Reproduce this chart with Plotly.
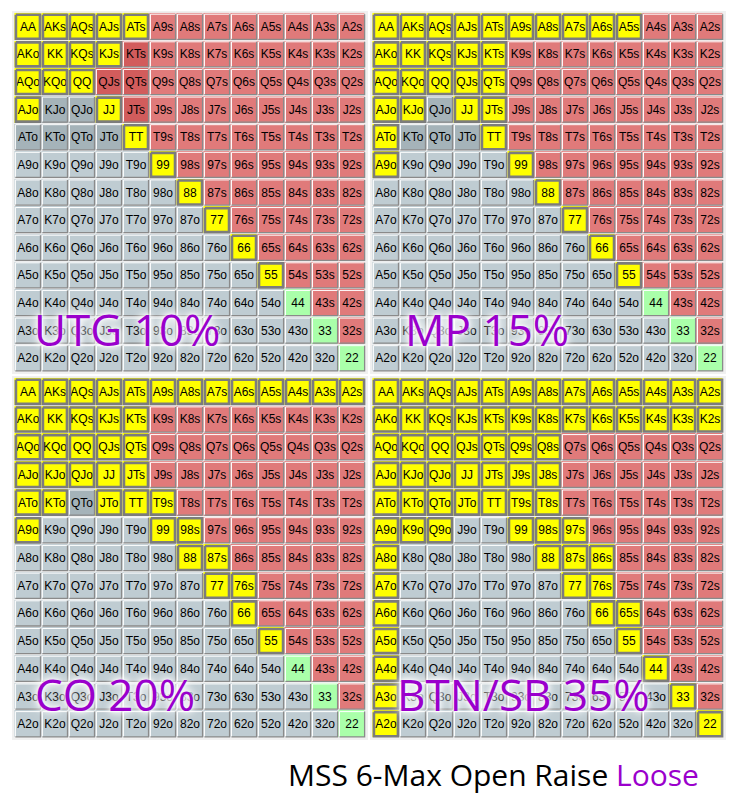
import plotly.graph_objects as go

# ---------------- data ----------------
ranks = ["A", "K", "Q", "J", "T", "9", "8", "7", "6", "5", "4", "3", "2"]

positions = ["UTG 10%", "MP 15%", "CO 20%", "BTN/SB 35%"]

utg_open = ["AA", "AKs", "AQs", "AJs", "ATs", "AKo", "KK", "KQs", "KJs", "AQo", "KQo", "QQ",
            "AJo", "JJ", "TT", "99", "88", "77", "66", "55"]
utg_shade = ["KTs", "QJs", "QTs", "JTs", "KJo", "QJo", "ATo", "KTo", "QTo", "JTo"]

mp_open = ["AA", "AKs", "AQs", "AJs", "ATs", "A9s", "A8s", "A7s", "A6s", "A5s",
           "AKo", "KK", "KQs", "KJs", "KTs", "AQo", "KQo", "QQ", "QJs", "QTs",
           "AJo", "KJo", "JJ", "JTs", "ATo", "TT", "A9o", "99", "88", "77", "66", "55"]
mp_shade = ["QJo", "KTo", "QTo", "JTo"]

co_open = ["AA", "AKs", "AQs", "AJs", "ATs", "A9s", "A8s", "A7s", "A6s", "A5s", "A4s", "A3s", "A2s",
           "AKo", "KK", "KQs", "KJs", "KTs", "AQo", "KQo", "QQ", "QJs", "QTs",
           "AJo", "KJo", "QJo", "JJ", "JTs", "ATo", "KTo", "JTo", "TT", "T9s",
           "A9o", "99", "98s", "88", "87s", "77", "76s", "66", "55"]
co_shade = ["QTo"]

btn_open = ["AA", "AKs", "AQs", "AJs", "ATs", "A9s", "A8s", "A7s", "A6s", "A5s", "A4s", "A3s", "A2s",
            "AKo", "KK", "KQs", "KJs", "KTs", "K9s", "K8s", "K7s", "K6s", "K5s", "K4s", "K3s", "K2s",
            "AQo", "KQo", "QQ", "QJs", "QTs", "Q9s", "Q8s",
            "AJo", "KJo", "QJo", "JJ", "JTs", "J9s", "J8s",
            "ATo", "KTo", "QTo", "JTo", "TT", "T9s", "T8s",
            "A9o", "K9o", "Q9o", "99", "98s", "97s",
            "A8o", "88", "87s", "86s", "A7o", "77", "76s", "A6o", "66", "65s",
            "A5o", "55", "A4o", "44", "A3o", "33", "A2o", "22"]
btn_shade = []

ranges_open = [utg_open, mp_open, co_open, btn_open]
ranges_shade = [utg_shade, mp_shade, co_shade, btn_shade]

title_main = "MSS 6-Max Open Raise "
title_tail = "Loose"

# ---------------- styling ----------------
COL_YELLOW = "#ffff00"
COL_RED = "#e07a7a"
COL_RED_D = "#d25c5c"
COL_GREY = "#bfccd2"
COL_GREY_D = "#a5b3b9"
COL_GREEN = "#aaffaa"
PURPLE = "#9a00cc"
palette = [COL_YELLOW, COL_RED, COL_RED_D, COL_GREY, COL_GREY_D, COL_GREEN]
n = len(palette)
cscale = []
for k, c in enumerate(palette):
    cscale.append([k / n, c])
    cscale.append([(k + 1) / n, c])

W, H = 735, 807
# panel boxes in pixels (left, right, top, bottom)
panels_px = [(12, 368, 11, 374), (370, 726, 11, 374), (12, 368, 376, 740), (370, 726, 376, 740)]
label_px = [(127, 329), (487, 329), (115, 694), (523, 694)]
GLOW = ("0px 0px 3px rgba(255,255,255,1), 0px 0px 6px rgba(255,255,255,1), "
        "0px 0px 10px rgba(255,255,255,0.95), 0px 0px 14px rgba(255,255,255,0.9)")


def hand(i, j):
    if i == j:
        return ranks[i] + ranks[j]
    if j > i:
        return ranks[i] + ranks[j] + "s"
    return ranks[j] + ranks[i] + "o"


fig = go.Figure()

for p in range(4):
    ax = "" if p == 0 else str(p + 1)
    xr, yr = "x" + ax, "y" + ax
    opened = set(ranges_open[p])
    shaded = set(ranges_shade[p])
    z, txt = [], []
    lx, ly, dx, dy, sx, sy = [], [], [], [], [], []
    hx, hy = 0.465, 0.455
    for i in range(13):
        zr, tr = [], []
        for j in range(13):
            h = hand(i, j)
            if h in opened:
                code = 0
            elif i == j:
                code = 5
            elif j > i:
                code = 2 if h in shaded else 1
            else:
                code = 4 if h in shaded else 3
            zr.append(code)
            tr.append(h)
            if code == 0:
                a, b = hx - 0.02, hy - 0.02
                sx += [j - a, j + a, j + a, j - a, j - a, None]
                sy += [i - b, i - b, i + b, i + b, i - b, None]
            else:
                lx += [j - hx, j - hx, j + hx, None]
                ly += [i + hy, i - hy, i - hy, None]
                dx += [j + hx, j + hx, j - hx, None]
                dy += [i - hy, i + hy, i + hy, None]
        z.append(zr)
        txt.append(tr)

    fig.add_trace(go.Heatmap(
        z=z, x=list(range(13)), y=list(range(13)), text=txt, texttemplate="%{text}",
        textfont=dict(family="Liberation Sans, Arial", size=12, color="#000000"),
        colorscale=cscale, zmin=-0.5, zmax=n - 0.5, showscale=False,
        xgap=1, ygap=1, hoverinfo="skip", xaxis=xr, yaxis=yr))
    fig.add_trace(go.Scatter(x=lx, y=ly, mode="lines", line=dict(color="#ffffff", width=1),
                             hoverinfo="skip", showlegend=False, xaxis=xr, yaxis=yr))
    fig.add_trace(go.Scatter(x=dx, y=dy, mode="lines", line=dict(color="#8a8a8a", width=1.3),
                             hoverinfo="skip", showlegend=False, xaxis=xr, yaxis=yr))
    fig.add_trace(go.Scatter(x=sx, y=sy, mode="lines", line=dict(color="#7c7c7c", width=2.6),
                             hoverinfo="skip", showlegend=False, xaxis=xr, yaxis=yr))

    l, r, t, b = panels_px[p]
    fig.update_layout(**{
        "xaxis" + ax: dict(domain=[l / W, r / W], range=[-0.59, 12.59], visible=False,
                           fixedrange=True, anchor=yr),
        "yaxis" + ax: dict(domain=[1 - b / H, 1 - t / H], range=[12.57, -0.57], visible=False,
                           fixedrange=True, anchor=xr),
    })
    lxp, lyp = label_px[p]
    fig.add_annotation(
        text=positions[p], xref="paper", yref="paper", x=lxp / W, y=1 - lyp / H,
        xanchor="center", yanchor="middle", showarrow=False,
        font=dict(family="Open Sans", size=44, color=PURPLE, shadow=GLOW))

fig.add_annotation(
    text=title_main + "<span style='color:%s'>%s</span>" % (PURPLE, title_tail),
    xref="paper", yref="paper", x=493 / W, y=1 - 774 / H, xanchor="center", yanchor="middle",
    showarrow=False, font=dict(family="Open Sans", size=30, color="#000000"))

fig.update_layout(width=W, height=H, margin=dict(l=0, r=0, t=0, b=0),
                  paper_bgcolor="#ffffff", plot_bgcolor="#f0f0f0", showlegend=False)

fig.write_html("out.html", config={"displayModeBar": False, "staticPlot": True},
               post_script="document.body.style.margin='0px';")
